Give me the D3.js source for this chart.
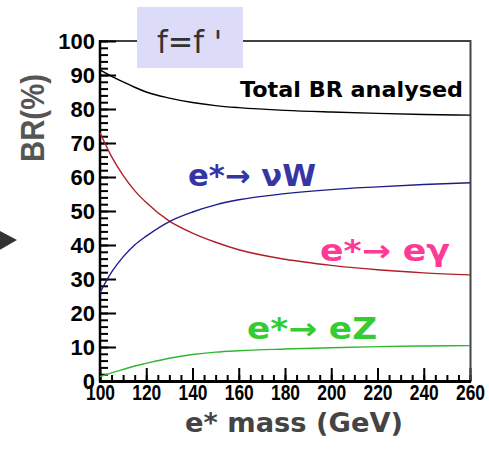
<!DOCTYPE html>
<html lang="en">
<head>
<meta charset="utf-8">
<title>BR vs e* mass</title>
<script src="https://cdn.jsdelivr.net/npm/d3@7"></script>
<style>
  body { margin: 0; background: #fff; }
  .tick text { font-family: "Liberation Sans", Arial, sans-serif; font-weight: bold; fill: #000; }
  .tick line { stroke: #000; stroke-width: 2; }
  .lbl { font-family: "DejaVu Sans", sans-serif; font-weight: bold; }
</style>
</head>
<body>
<svg width="489" height="452"></svg>
<script>

// values
var mass = [100, 105, 110, 115, 120, 130, 140, 150, 160, 180, 200, 220, 240, 260];
var totalBR = [91.5, 89.6, 88, 86.4, 85, 83.2, 81.9, 81, 80.4, 79.6, 79.1, 78.7, 78.4, 78.2];
var gammaBR = [73, 66, 60.5, 56, 52.5, 47, 43.5, 40.8, 38.6, 35.8, 34, 32.7, 31.8, 31.2];
var wBR = [26, 32, 36.5, 40, 42.6, 46.9, 49.7, 51.8, 53.3, 55.1, 56.3, 57.1, 57.8, 58.3];
var zBR = [1.3, 2.4, 3.4, 4.4, 5.2, 6.7, 7.8, 8.5, 8.9, 9.4, 9.8, 10.1, 10.3, 10.4];

var xMajor = [100, 120, 140, 160, 180, 200, 220, 240, 260];
var yMajor = [0, 10, 20, 30, 40, 50, 60, 70, 80, 90, 100];

var svg = d3.select("svg");

var x = d3.scaleLinear().domain([100, 260]).range([100, 470]),
    y = d3.scaleLinear().domain([0, 100]).range([381, 41]);

// small arrow remnant on the left edge
svg.append("path")
    .attr("d", "M-2,230 L17,240 L-2,251 Z")
    .attr("fill", "#333");

// minor ticks
svg.append("g")
    .attr("transform", "translate(0,381)")
    .call(d3.axisBottom(x).tickValues(d3.range(100, 261, 5)).tickSize(-6).tickFormat(""))
    .call(function(g) { g.select(".domain").remove(); });

svg.append("g")
    .attr("transform", "translate(100,0)")
    .call(d3.axisLeft(y).tickValues(d3.range(0, 101, 2)).tickSize(-8).tickFormat(""))
    .call(function(g) { g.select(".domain").remove(); });

// major ticks + labels
var xAxis = svg.append("g")
    .attr("transform", "translate(0,381)")
    .call(d3.axisBottom(x).tickValues(xMajor).tickSize(-13).tickPadding(3).tickFormat(d3.format("d")));
xAxis.select(".domain").remove();
xAxis.selectAll("text")
    .style("font-size", "22px")
    .attr("textLength", 29)
    .attr("lengthAdjust", "spacingAndGlyphs");

var yAxis = svg.append("g")
    .attr("transform", "translate(100,0)")
    .call(d3.axisLeft(y).tickValues(yMajor).tickSize(-16).tickPadding(5).tickFormat(d3.format("d")));
yAxis.select(".domain").remove();
yAxis.selectAll("text").style("font-size", "22px");

// frame
svg.append("line").attr("x1", 100).attr("x2", 470).attr("y1", 41).attr("y2", 41)
    .attr("stroke", "#000").attr("stroke-width", 1.5);
svg.append("line").attr("x1", 470.5).attr("x2", 470.5).attr("y1", 40).attr("y2", 382)
    .attr("stroke", "#444").attr("stroke-width", 2);
svg.append("line").attr("x1", 100).attr("x2", 100).attr("y1", 40).attr("y2", 382)
    .attr("stroke", "#000").attr("stroke-width", 2.5);
svg.append("line").attr("x1", 99).attr("x2", 471).attr("y1", 381.5).attr("y2", 381.5)
    .attr("stroke", "#000").attr("stroke-width", 3);

// curves
var line = d3.line()
    .x(function(d) { return x(d[0]); })
    .y(function(d) { return y(d[1]); })
    .curve(d3.curveMonotoneX);

var series = [
  { v: totalBR, color: "#000000" },
  { v: gammaBR, color: "#b0202a" },
  { v: wBR, color: "#1c1c8c" },
  { v: zBR, color: "#2fb82f" }
];

series.forEach(function(s) {
  svg.append("path")
      .datum(mass.map(function(m, i) { return [m, s.v[i]]; }))
      .attr("fill", "none")
      .attr("stroke", s.color)
      .attr("stroke-width", 1.4)
      .attr("d", line);
});

// curve labels
svg.append("text").attr("class", "lbl")
    .attr("x", 240).attr("y", 97)
    .style("font-size", "21px").style("fill", "#000")
    .attr("textLength", 223).attr("lengthAdjust", "spacingAndGlyphs")
    .text("Total BR analysed");

svg.append("text").attr("class", "lbl")
    .attr("x", 188).attr("y", 186)
    .style("font-size", "30px").style("fill", "#3535a5")
    .attr("textLength", 128).attr("lengthAdjust", "spacingAndGlyphs")
    .text("e*\u2192 \u03bdW");

svg.append("text").attr("class", "lbl")
    .attr("x", 320).attr("y", 261)
    .style("font-size", "30px").style("fill", "#ff3a96")
    .attr("textLength", 130).attr("lengthAdjust", "spacingAndGlyphs")
    .text("e*\u2192 e\u03b3");

svg.append("text").attr("class", "lbl")
    .attr("x", 247).attr("y", 339)
    .style("font-size", "30px").style("fill", "#33cc33")
    .attr("textLength", 130).attr("lengthAdjust", "spacingAndGlyphs")
    .text("e*\u2192 eZ");

// f=f' box
svg.append("rect")
    .attr("x", 137).attr("y", 7).attr("width", 106).attr("height", 61)
    .attr("fill", "#dcdcf8");
svg.append("text")
    .attr("x", 157).attr("y", 53)
    .style("font-family", "'DejaVu Sans', sans-serif")
    .style("font-size", "32px").style("fill", "#333")
    .attr("textLength", 65).attr("lengthAdjust", "spacingAndGlyphs")
    .text("f=f '");

// axis titles
svg.append("text").attr("class", "lbl")
    .attr("transform", "translate(44,162) rotate(-90)")
    .style("font-family", "'Liberation Sans', Arial, sans-serif")
    .style("font-size", "33px").style("fill", "#555")
    .attr("textLength", 88).attr("lengthAdjust", "spacingAndGlyphs")
    .text("BR(%)");

svg.append("text").attr("class", "lbl")
    .attr("x", 185).attr("y", 432)
    .style("font-size", "26px").style("fill", "#444")
    .attr("textLength", 218).attr("lengthAdjust", "spacingAndGlyphs")
    .text("e* mass (GeV)");

</script>
</body>
</html>
